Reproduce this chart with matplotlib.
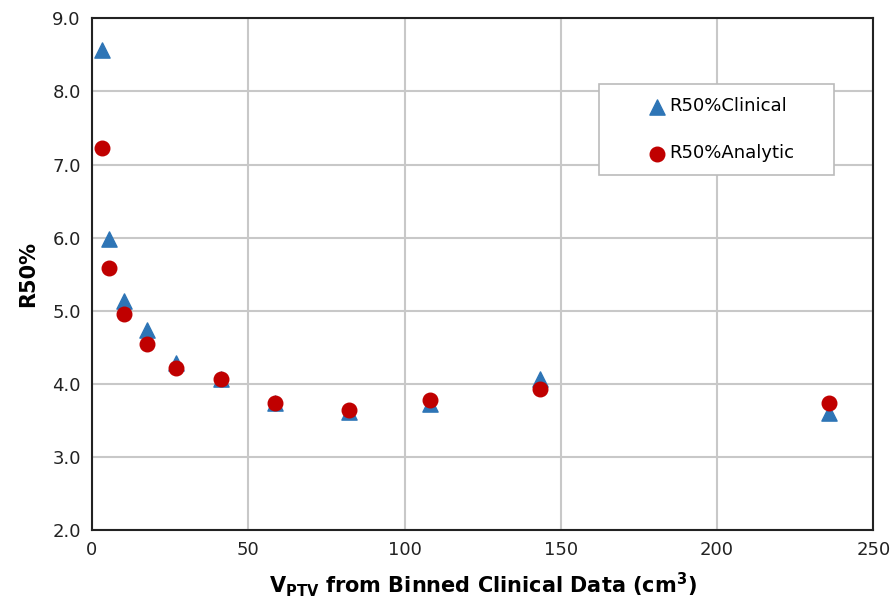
import numpy as np
import matplotlib.pyplot as plt
from matplotlib.patches import Rectangle

# binned PTV volume (cm3)
vptv = [3.2, 5.4, 10.2, 17.6, 26.9, 41.3, 58.6, 82.2, 108.0, 143.4, 235.8]
r50_clinical = [8.57, 5.98, 5.14, 4.73, 4.29, 4.06, 3.74, 3.62, 3.72, 4.06, 3.60]
r50_analytic = [7.22, 5.59, 4.95, 4.54, 4.22, 4.07, 3.74, 3.64, 3.78, 3.93, 3.74]

fig = plt.figure(figsize=(8.93, 6.10), dpi=100)
ax = fig.add_axes([0.103, 0.131, 0.875, 0.839])

ax.scatter(vptv, r50_clinical, marker='^', s=120, color='#2E75B6', label='R50%Clinical', zorder=3)
ax.scatter(vptv, r50_analytic, marker='o', s=110, color='#C00000', label='R50%Analytic', zorder=4)

ax.set_xlim(0, 250)
ax.set_ylim(2.0, 9.0)
ax.set_xticks(np.arange(0, 251, 50))
ax.set_yticks(np.arange(2.0, 9.01, 1.0))
ax.set_yticklabels([f'{v:.1f}' for v in np.arange(2.0, 9.01, 1.0)])
ax.tick_params(labelsize=13, length=0, pad=8, colors='#222222')
ax.grid(True, color='#c8c8c8', linewidth=1.5)
ax.set_axisbelow(True)
for s in ax.spines.values():
    s.set_color('#222222')
    s.set_linewidth(1.5)

ax.set_ylabel('R50%', fontsize=15, fontweight='bold', labelpad=10)
ax.set_xlabel(r'$\mathbf{V_{PTV}}$ from Binned Clinical Data (cm$^\mathbf{3}$)',
              fontsize=15, fontweight='bold', labelpad=8)

# legend box drawn by hand (wide side padding like the original)
ax.add_patch(Rectangle((0.649, 0.693), 0.300, 0.178, transform=ax.transAxes,
                       facecolor='white', edgecolor='#bbbbbb', linewidth=1.2, zorder=5))
leg = ax.legend(loc='center', bbox_to_anchor=(0.805, 0.782), fontsize=13,
                frameon=False, handlelength=1.0, handletextpad=0.15, labelspacing=1.6,
                borderpad=0, borderaxespad=0, scatterpoints=1)
leg.set_zorder(6)

fig.savefig('out.png', dpi=100)
